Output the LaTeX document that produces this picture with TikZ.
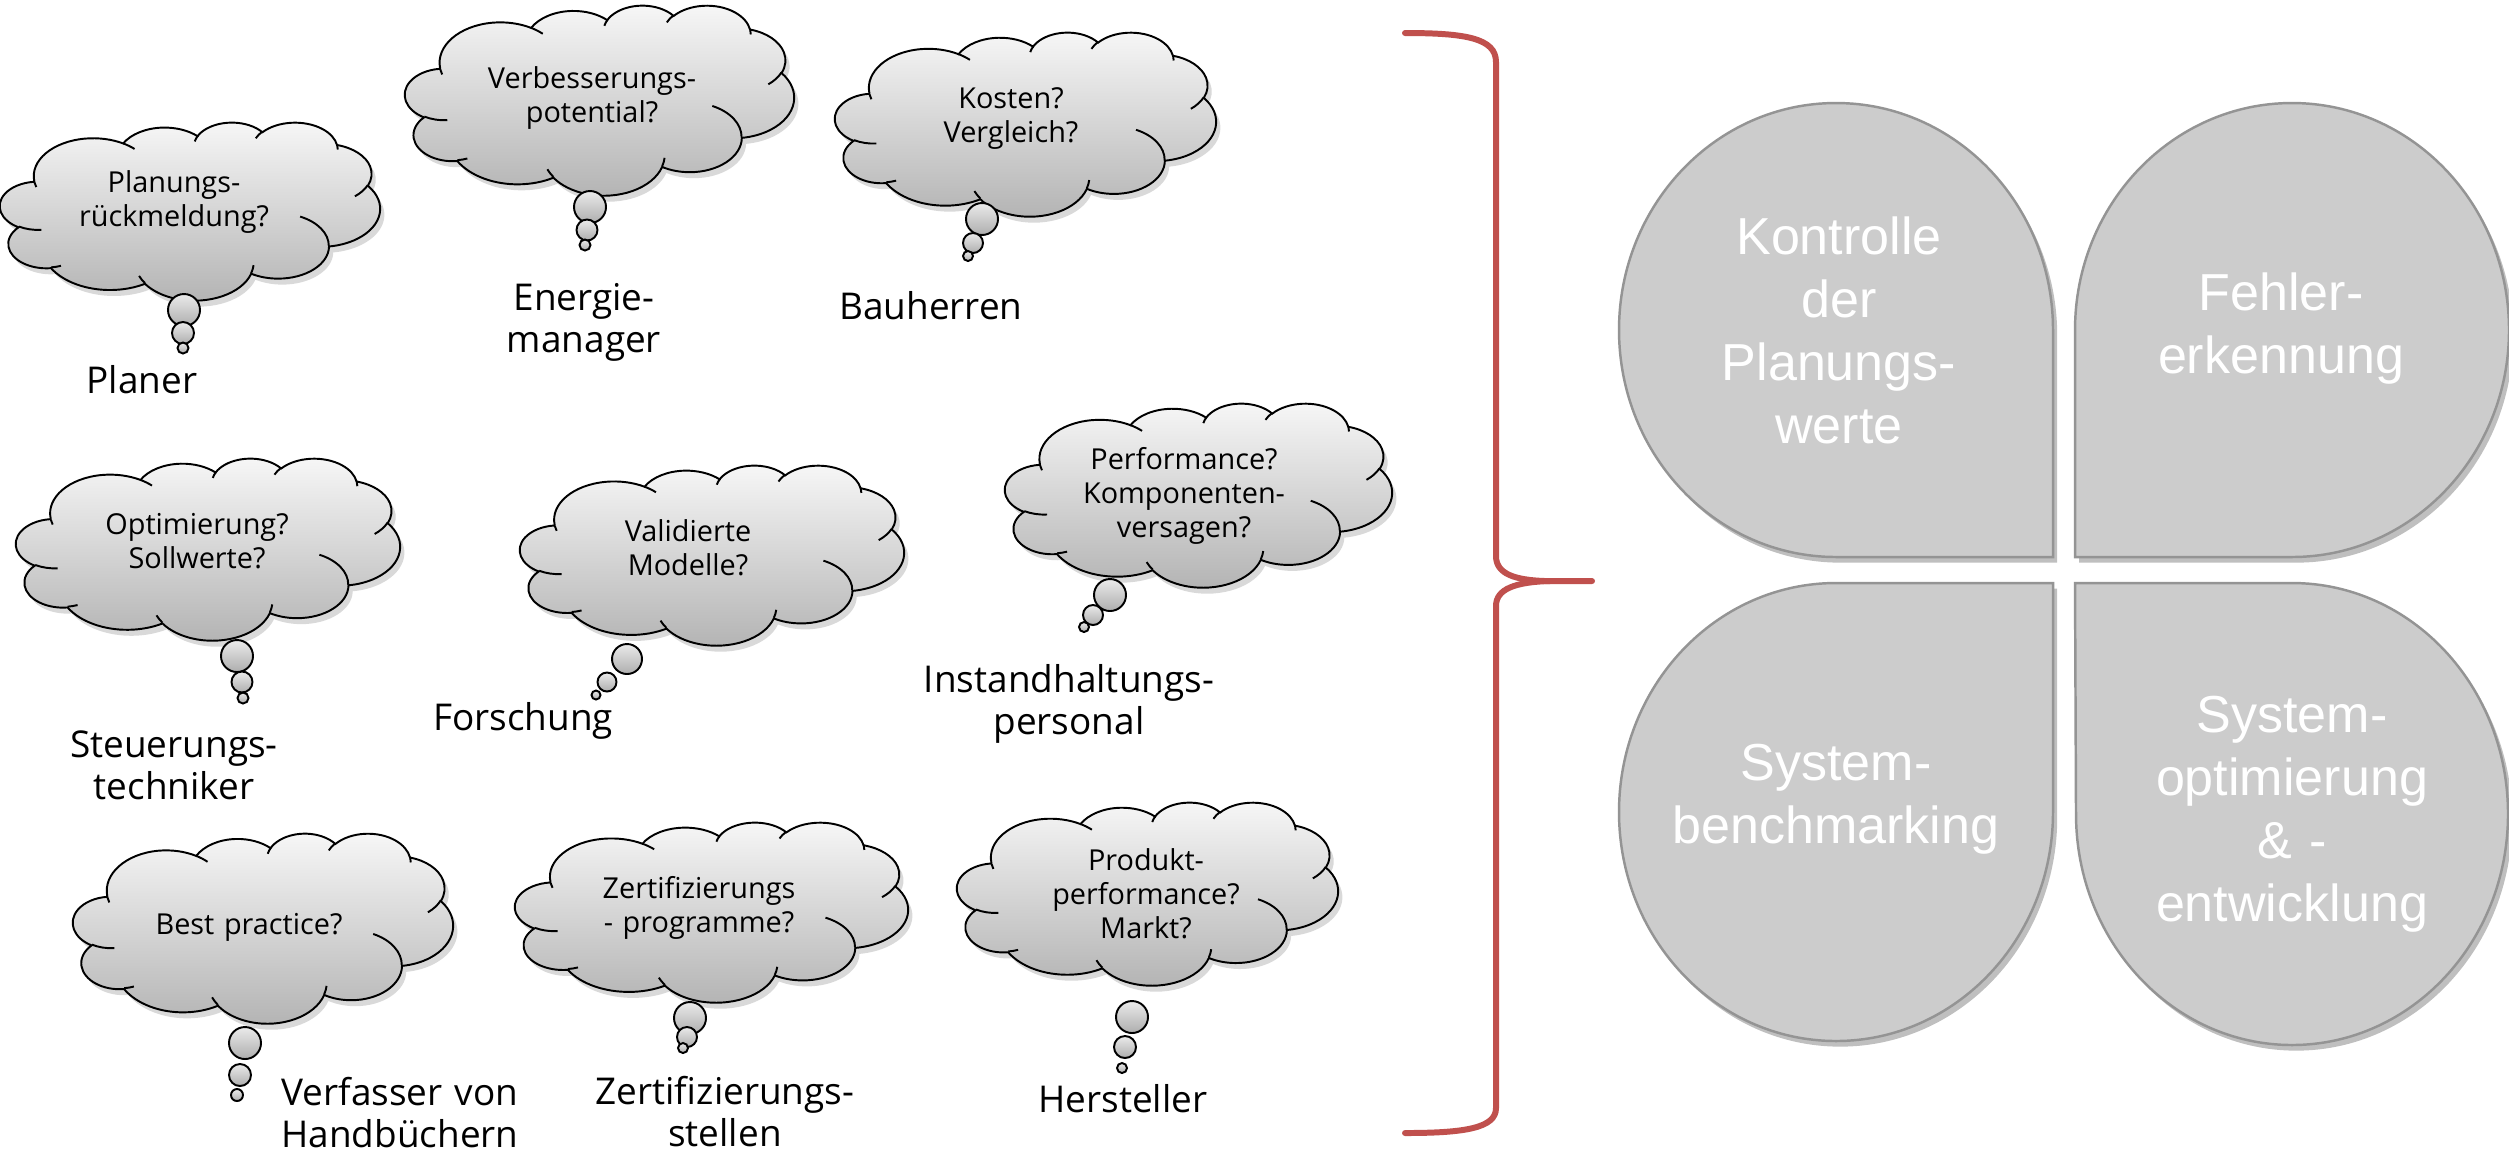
\documentclass[tikz,border=0pt]{standalone}
\usepackage{fontspec}
\newfontfamily\cfont{Open Sans}
\newfontfamily\pfont{Liberation Sans}
\definecolor{bracecol}{HTML}{C0504D}
\newcommand\cloudshape{(39.00,143.70)
 arc[start angle=-187.75,delta angle=128.13,x radius=67.53,y radius=91.90]
 arc[start angle=-152.02,delta angle=106.58,x radius=53.33,y radius=72.67]
 arc[start angle=-153.48,delta angle=116.18,x radius=43.65,y radius=59.45]
 arc[start angle=-139.70,delta angle=129.49,x radius=48.57,y radius=65.95]
 arc[start angle=-74.77,delta angle=97.98,x radius=53.33,y radius=72.73]
 arc[start angle=-37.54,delta angle=119.41,x radius=67.75,y radius=92.20]
 arc[start angle=0.46,delta angle=121.52,x radius=57.85,y radius=78.67]
 arc[start angle=16.85,delta angle=129.40,x radius=67.52,y radius=92.15]
 arc[start angle=58.99,delta angle=91.21,x radius=77.20,y radius=105.43]
 arc[start angle=83.30,delta angle=139.80,x radius=43.60,y radius=59.18]
 arc[start angle=120.36,delta angle=143.75,x radius=43.45,y radius=59.45]
 -- cycle}
\newcommand\cloudlines{(46.93,261.77) arc[start angle=85.54,delta angle=34.82,x radius=43.45,y radius=59.45]
 (69.28,348.99) arc[start angle=68.23,delta angle=15.08,x radius=43.60,y radius=59.18]
 (164.78,390.90) arc[start angle=146.23,delta angle=12.24,x radius=67.52,y radius=92.15]
 (288.27,347.51) arc[start angle=4.73,delta angle=12.12,x radius=67.52,y radius=92.15]
 (341.29,229.54) arc[start angle=-64.03,delta angle=64.49,x radius=57.85,y radius=78.67]
 (417.98,153.54) arc[start angle=23.21,delta angle=26.43,x radius=53.33,y radius=72.73]
 (383.24,54.26) arc[start angle=-10.21,delta angle=11.03,x radius=48.57,y radius=65.95]
 (290.78,39.52) arc[start angle=-156.29,delta angle=16.59,x radius=48.57,y radius=65.95]
 (221.41,47.20) arc[start angle=-167.73,delta angle=14.25,x radius=43.65,y radius=59.45]
 (140.00,51.92) arc[start angle=-59.62,delta angle=13.87,x radius=67.53,y radius=91.90]
 (41.27,157.89) arc[start angle=162.38,delta angle=7.54,x radius=67.53,y radius=91.90]}
% x0 y0 w h
\newcommand\drawcloud[4]{%
 \begin{scope}[shift={(#1,#2)},x={#3*0.01cm/432},y={-#4*0.01cm/432}]
  \fill[cloudshadow] \cloudshape;
  \draw[cloudbody] \cloudshape;
  \draw[cloudline] \cloudlines;
 \end{scope}}
\newcommand\bubbles[9]{%
  \draw[bubble] (#1,#2) circle[radius=#3];
  \draw[bubble] (#4,#5) circle[radius=#6];
  \draw[bubble] (#7,#8) circle[radius=#9];}
\newcommand\petal[1]{\fill[petalshadow] #1; \draw[petalbody] #1;}
\tikzset{
  cloudshadow/.style={fill=black,opacity=0.15,xshift=1.2pt,yshift=-1.7pt},
  cloudbody/.style={draw=black,line width=0.55pt,top color=black!3,bottom color=black!30},
  cloudline/.style={draw=black,line width=0.55pt},
  bubble/.style={draw=black,line width=0.55pt,top color=black!8,bottom color=black!32},
  ctext/.style={anchor=base,inner sep=0pt,text width=4.5cm,align=center,
    font=\cfont\fontsize{8.2}{9.7}\selectfont},
  lbl/.style={anchor=base,inner sep=0pt,text width=5cm,align=center,
    font=\cfont\fontsize{10.5}{12.2}\selectfont},
  ptext/.style={anchor=base,inner sep=0pt,text width=4.2cm,align=center,text=white,
    font=\pfont\fontsize{14.8}{18.0}\selectfont},
  petalshadow/.style={fill=black,opacity=0.25,xshift=1.2pt,yshift=-1.6pt},
  petalbody/.style={fill=black!20,draw=black!42,line width=0.7pt},
  bracestyle/.style={draw=bracecol,line width=1.7pt,line cap=round}
}
\begin{document}
\begin{tikzpicture}[x=0.01cm,y=-0.01cm]
\useasboundingbox (0,0) rectangle (2509,1156);
\fill[white] (0,0) rectangle (2509,1156);

% clouds
\drawcloud{0}{122}{380}{178}
\bubbles{184}{310}{16}{183}{333}{11}{183}{348}{5.5}
\node[ctext] (t1) at (174,192) {Planungs-\\rückmeldung?};
\node[lbl] (l1) at (142,393) {Planer};

\drawcloud{405}{5}{389}{190}
\bubbles{590}{207}{16}{587}{230}{10.5}{585}{245}{5.5}
\node[ctext] (t2) at (592,88) {Verbesserungs-\\potential?};
\node[lbl] (l2) at (584,310) {Energie-\\manager};

\drawcloud{835}{32}{381}{184}
\bubbles{982}{219}{16}{973}{243}{10}{968}{256}{5}
\node[ctext] (t3) at (1011,108) {Kosten?\\Vergleich?};
\node[lbl] (l3) at (931,319) {Bauherren};

\drawcloud{16}{458}{384}{182}
\bubbles{237}{656}{16}{242}{682}{10.5}{243}{698}{5.5}
\node[ctext] (t4) at (197,534) {Optimierung?\\Sollwerte?};
\node[lbl] (l4) at (174,757) {Steuerungs-\\techniker};

\drawcloud{520}{465}{384}{180}
\bubbles{627}{659}{15}{607}{682}{9.5}{596}{695}{4.5}
\node[ctext] (t5) at (688,541) {Validierte\\Modelle?};
\node[lbl] (l5) at (523,730) {Forschung};

\drawcloud{1005}{403}{387}{184}
\bubbles{1110}{595}{16}{1093}{615}{10}{1084}{627}{5}
\node[ctext] (t6) at (1184,469) {Performance?\\Komponenten-\\versagen?};
\node[lbl] (l6) at (1069,692) {Instandhaltungs-\\personal};

\drawcloud{73}{833}{380}{190}
\bubbles{245}{1043}{16}{240}{1075}{11}{237}{1095}{6}
\node[ctext] (t7) at (249,934) {Best practice?};
\node[lbl] (l7) at (400,1105) {Verfasser von\\Handbüchern};

\drawcloud{515}{822}{393}{180}
\bubbles{690}{1018}{16}{687}{1037}{10}{683}{1048}{5}
\node[ctext] (t8) at (699,898) {Zertifizierungs\\- programme?};
\node[lbl] (l8) at (725,1104) {Zertifizierungs-\\stellen};

\drawcloud{957}{802}{381}{183}
\bubbles{1132}{1017}{16}{1125}{1047}{11}{1122}{1068}{5}
\node[ctext] (t9) at (1146,870) {Produkt-\\performance?\\Markt?};
\node[lbl] (l9) at (1123,1112) {Hersteller};

% brace
\draw[bracestyle] (1405,33) .. controls (1465,33) and (1496,38) .. (1496,62)
  -- (1496,556) .. controls (1496,574) and (1515,580) .. (1545,581) -- (1592,581);
\draw[bracestyle] (1550,581) .. controls (1515,582) and (1496,589) .. (1496,606)
  -- (1496,1108) .. controls (1496,1128) and (1465,1133) .. (1405,1133);

% petals
\petal{(2053,557) -- (1836,557) arc[start angle=90,delta angle=270,x radius=217,y radius=227] -- cycle}
\petal{(2075,557) -- (2075,330) arc[start angle=180,delta angle=270,x radius=217,y radius=227] -- cycle}
\petal{(2053,583) -- (2053,812) arc[start angle=0,delta angle=270,x radius=217,y radius=229] -- cycle}
\petal{(2075,583) -- (2292,583) arc[start angle=270,delta angle=270,x radius=216,y radius=231] -- cycle}

\node[ptext] (p1) at (1839,254) {Kontrolle\\der\\Planungs-\\werte};
\node[ptext] (p2) at (2281,310) {Fehler-\\erkennung};
\node[ptext] (p3) at (1836,780) {System-\\benchmarking};
\node[ptext] (p4) at (2292,732) {System-\\optimierung\\\& -\\entwicklung};
\end{tikzpicture}
\end{document}
